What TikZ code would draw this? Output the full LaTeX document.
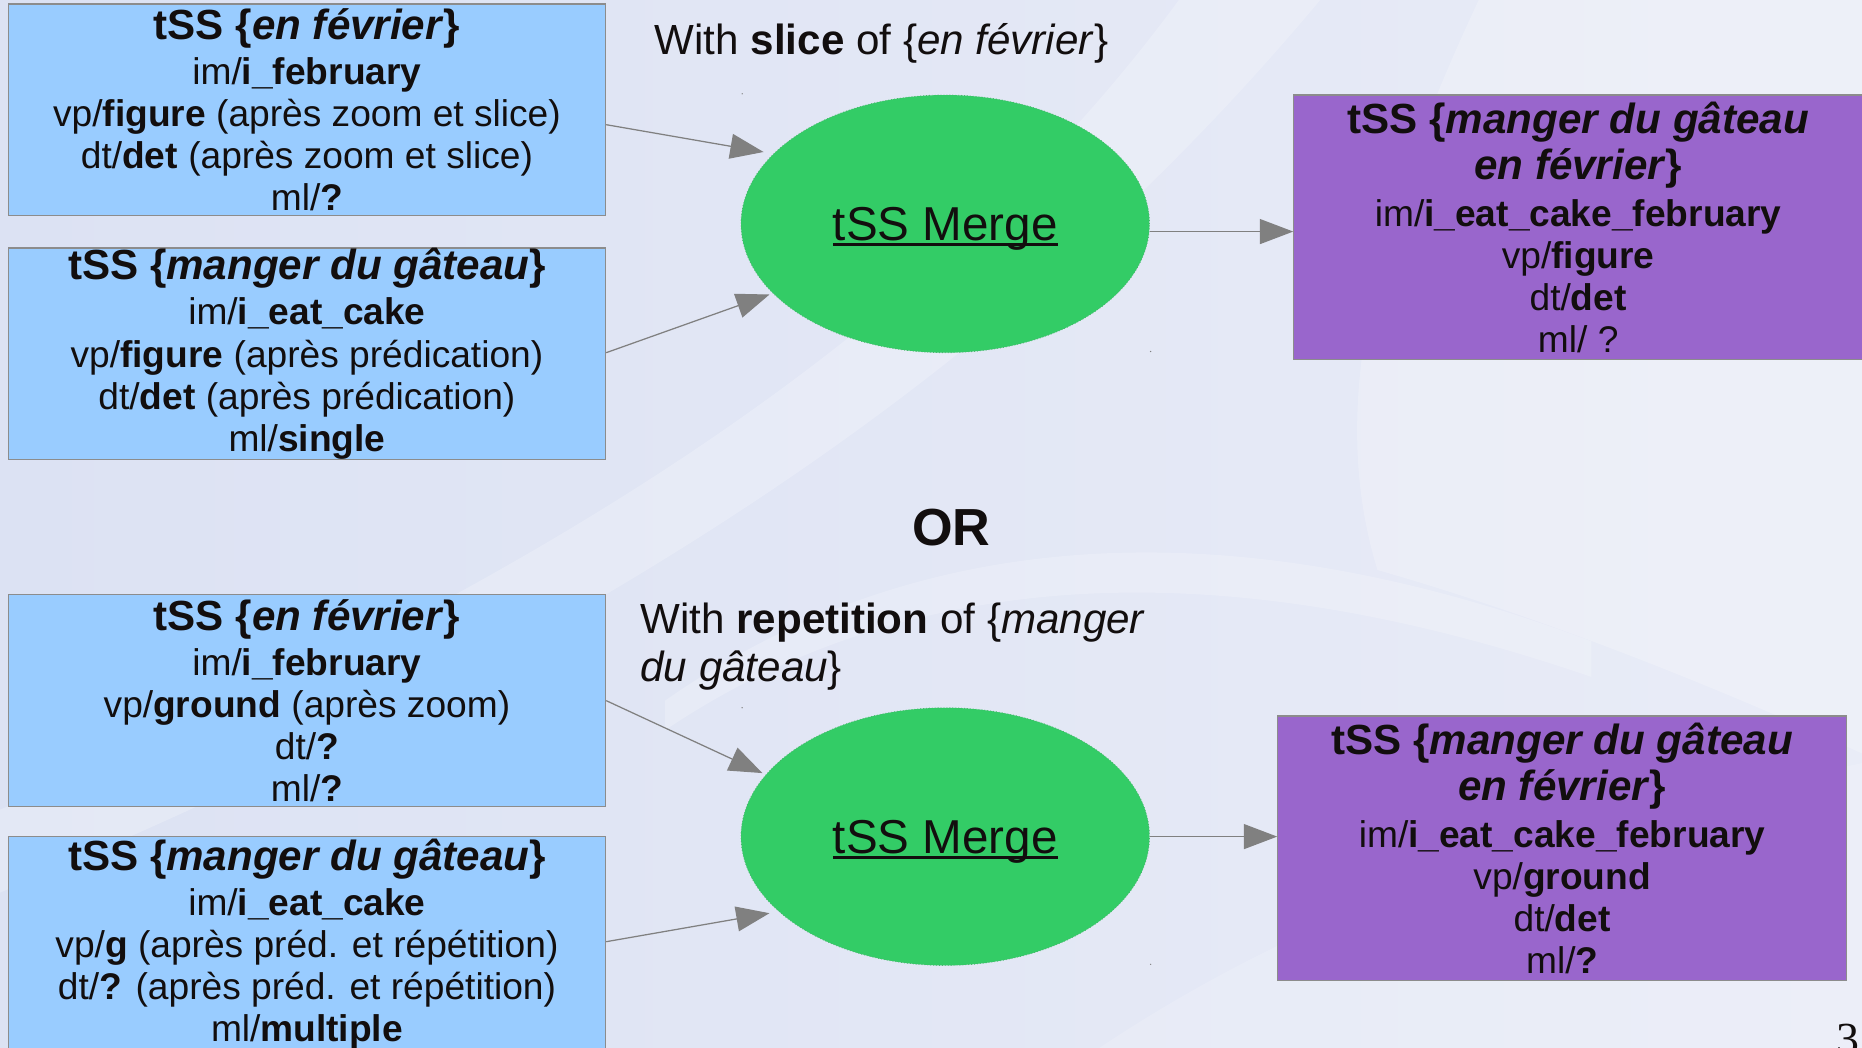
\documentclass[tikz,border=0pt]{standalone}
\usepackage{fontspec}
\setmainfont{Liberation Sans}
\newfontfamily\serifnum{Liberation Serif}
\usetikzlibrary{arrows.meta,shapes.geometric,calc}
\definecolor{bgL}{HTML}{DCE2F3}
\definecolor{bgR}{HTML}{E9ECF7}
\definecolor{cBlue}{HTML}{99CCFF}
\definecolor{cPurple}{HTML}{9966CC}
\definecolor{cGreen}{HTML}{33CC66}
\definecolor{cBorder}{HTML}{8C8C8C}
\definecolor{cArrow}{HTML}{808080}
\definecolor{cText}{HTML}{120E0E}
\newsavebox\ulbox
\newcommand\myul[1]{\sbox\ulbox{#1}\rlap{\rule[-0.11em]{\wd\ulbox}{0.055em}}\usebox\ulbox}
\newcommand\ttl[1]{{\fontsize{20.2}{20.2}\selectfont\bfseries #1}}
\tikzset{
  inbox/.style={rectangle, draw=cBorder, line width=0.6pt, fill=cBlue,
    minimum width=10.06cm, minimum height=3.57cm, inner sep=0pt, align=center,
    text=cText, font=\fontsize{17.8}{20.2}\selectfont},
  outbox/.style={inbox, fill=cPurple, minimum width=9.58cm, minimum height=4.46cm},
  merge/.style={ellipse, fill=cGreen, draw=cGreen!70!gray, densely dotted, line width=0.4pt,
    minimum width=6.88cm, minimum height=4.34cm, inner sep=0pt},
  mergetext/.style={inner sep=0pt, text=cText, font=\fontsize{22.8}{22.8}\selectfont},
  caption/.style={text=cText, inner sep=0pt, align=left, font=\fontsize{20.2}{23.3}\selectfont},
  conn/.style={draw=cArrow, line width=0.6pt, -{Triangle[length=0.56cm,width=0.42cm]}},
}
\begin{document}
\begin{tikzpicture}[x=0.02cm,y=-0.02cm]
\useasboundingbox (0,0) rectangle (1568,882);
\clip (0,0) rectangle (1568,882);
% background
\shade[left color=bgL, right color=bgR] (0,0) rectangle (1568,882);
\fill[white, opacity=0.22] (1000,-10) .. controls (820,240) and (520,470) .. (-20,690) -- (-20,760) .. controls (560,520) and (880,280) .. (1120,-10) -- cycle;
\fill[white, opacity=0.2] (560,590) .. controls (760,450) and (1020,420) .. (1340,540) -- (1340,570) .. controls (1020,460) and (760,480) .. (560,615) -- cycle;
\fill[white, opacity=0.22] (1568,-10) -- (1250,-10) .. controls (1150,200) and (1120,350) .. (1160,480) .. controls (1300,520) and (1450,580) .. (1580,640) -- cycle;
\fill[white, opacity=0.15] (900,900) .. controls (1100,760) and (1300,700) .. (1580,640) -- (1580,900) -- cycle;
% input boxes
\node[inbox] (b1) at (258.5,92.5) {\ttl{tSS \{\textit{en février}\}}\\[1.4pt]
  im/\textbf{i\_february}\\
  vp/\textbf{figure} (après zoom et slice)\\
  dt/\textbf{det} (après zoom et slice)\\
  ml/\textbf{?}};
\node[inbox] (b2) at (258.5,298) {\ttl{tSS \{\textit{manger du gâteau}\}}\\[1.4pt]
  im/\textbf{i\_eat\_cake}\\
  vp/\textbf{figure} (après prédication)\\
  dt/\textbf{det} (après prédication)\\
  ml/\textbf{single}};
\node[inbox] (b3) at (258.5,590) {\ttl{tSS \{\textit{en février}\}}\\[1.4pt]
  im/\textbf{i\_february}\\
  vp/\textbf{ground} (après zoom)\\
  dt/\textbf{?}\\
  ml/\textbf{?}};
\node[inbox, minimum height=3.62cm] (b4) at (258.5,795) {\ttl{tSS \{\textit{manger du gâteau}\}}\\[1.4pt]
  im/\textbf{i\_eat\_cake}\\
  vp/\textbf{g} (après préd. et répétition)\\
  dt/\textbf{?} (après préd. et répétition)\\
  ml/\textbf{multiple}};
% merge ellipses
\node[merge] (m1) at (796,188.5) {};
\node[mergetext] (m1t) at ([yshift=-0.09cm]m1.center) {\myul{tSS Merge}};
\node[merge] (m2) at (796,704.5) {};
\node[mergetext] (m2t) at ([yshift=-0.09cm]m2.center) {\myul{tSS Merge}};
% tiny handle marks
\fill[cArrow] (625,79) circle (0.6) (969,296) circle (0.6) (625,596) circle (0.6) (969,812) circle (0.6);
% output boxes
\node[outbox] (p1) at (1329,191.5) {\ttl{tSS \{\textit{manger du gâteau}}\\[2pt]
  \ttl{\textit{en février}\}}\\[2pt]
  im/\textbf{i\_eat\_cake\_february}\\
  vp/\textbf{figure}\\
  dt/\textbf{det}\\
  ml/ ?};
\node[outbox] (p2) at (1315.5,714.5) {\ttl{tSS \{\textit{manger du gâteau}}\\[2pt]
  \ttl{\textit{en février}\}}\\[2pt]
  im/\textbf{i\_eat\_cake\_february}\\
  vp/\textbf{ground}\\
  dt/\textbf{det}\\
  ml/\textbf{?}};
% captions
\node[caption, anchor=base west] (c1) at (551,46) {With \textbf{slice} of \{\textit{en février}\}};
\node[caption, anchor=base west] (c2) at (539,574) {With \textbf{repetition} of \{\textit{manger}\\\textit{du gâteau}\}};
\node[text=cText, inner sep=0pt, font=\fontsize{25}{25}\selectfont\bfseries] (or) at (801,444) {OR};
\node[text=cText, inner sep=0pt, anchor=base, font=\serifnum\fontsize{22}{22}\selectfont] (pg) at (1556,888) {3};
% connectors
\draw[conn] ([yshift=-0.25cm]b1.east) -- ($(m1.center)+(-153,-60.5)$);
\draw[conn] ([yshift=0.02cm]b2.east) -- ($(m1.center)+(-148,59.5)$);
\draw[conn] (b3.east) -- ($(m2.center)+(-154,-53.5)$);
\draw[conn] ([yshift=0.04cm]b4.east) -- ($(m2.center)+(-148,64.5)$);
\draw[conn] ([yshift=-0.13cm]m1.east) -- ([yshift=-0.13cm]m1.east -| p1.west);
\draw[conn] (m2.east) -- (m2.east -| p2.west);
\end{tikzpicture}
\end{document}
